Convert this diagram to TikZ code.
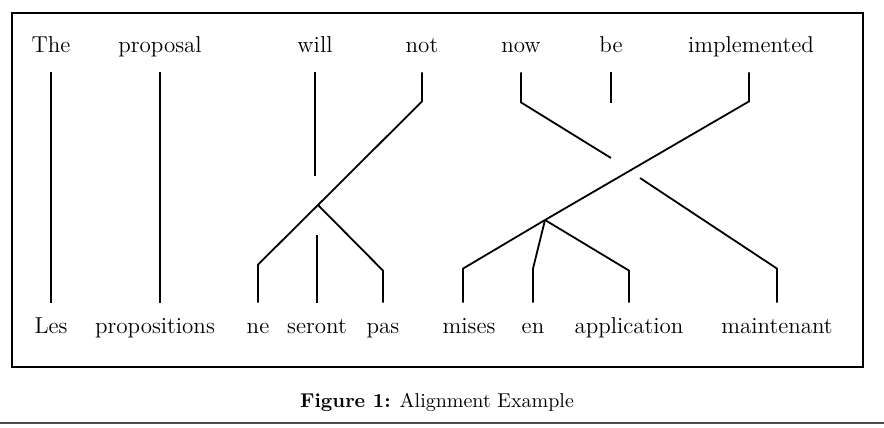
\documentclass[tikz,border=0pt]{standalone}
\begin{document}
\begin{tikzpicture}[x=0.5pt,y=-0.5pt,
  topword/.style={inner sep=0pt,anchor=base,text depth=9.5pt,font=\fontsize{11.5}{14}\selectfont},
  botword/.style={inner sep=0pt,anchor=base,text height=15pt,font=\fontsize{11.5}{14}\selectfont},
  link/.style={line width=0.9pt,line join=miter},
  frame/.style={line width=0.9pt},
  rule/.style={line width=0.6pt,draw=black!70}]
\useasboundingbox (0,0) rectangle (884,428);
\draw[frame] (12,13) rectangle (863,367);
% top words
\node[topword] (The) at (51,53) {The};
\node[topword] (proposal) at (160,53) {proposal};
\node[topword] (will) at (315,53) {will};
\node[topword] (not) at (422,53) {not};
\node[topword] (now) at (521,53) {now};
\node[topword] (be) at (611,53) {be};
\node[topword] (implemented) at (751,53) {implemented};
% bottom words
\node[botword] (Les) at (51,333) {Les};
\node[botword] (propositions) at (155,333) {propositions};
\node[botword] (ne) at (258,333) {ne};
\node[botword] (seront) at (317,333) {seront};
\node[botword] (pas) at (383,333) {pas};
\node[botword] (mises) at (469,333) {mises};
\node[botword] (en) at (533,333) {en};
\node[botword] (application) at (629,333) {application};
\node[botword] (maintenant) at (777,333) {maintenant};
% junctions and free ends
\coordinate (J1) at (318,205);
\coordinate (J2) at (545,220);
\path (will.south) ++(0,104) coordinate (willend);
\path (seront.north) ++(0,-68) coordinate (serontend);
\path (be.south) ++(0,31) coordinate (beend);
\coordinate (nowend) at (611,158);
\coordinate (maintstart) at (640,178);
% connectors
\draw[link] (The.south) -- (The.south |- Les.north);
\draw[link] (proposal.south) -- (proposal.south |- propositions.north);
\draw[link] (will.south) -- (willend);
\draw[link] (seront.north) -- (serontend);
\draw[link] (not.south) -- ++(0,29) -- (J1);
\draw[link] (J1) -- ([yshift=19pt]ne.north) -- (ne.north);
\draw[link] (J1) -- ([yshift=16pt]pas.north) -- (pas.north);
\draw[link] (now.south) -- ++(0,30) -- (nowend);
\draw[link] (be.south) -- (beend);
\draw[link] ([xshift=-1pt]implemented.south) -- ++(0,29) -- (J2);
\draw[link] (J2) -- ([xshift=-3pt,yshift=17pt]mises.north) -- ([xshift=-3pt]mises.north);
\draw[link] (J2) -- ([yshift=17pt]en.north) -- (en.north);
\draw[link] (J2) -- ([yshift=16pt]application.north) -- (application.north);
\draw[link] (maintstart) -- ([yshift=17pt]maintenant.north) -- (maintenant.north);
% caption and rule
\node[anchor=base,inner sep=0pt,font=\fontsize{10}{12}\selectfont] (caption) at (437,407) {\textbf{Figure 1:} Alignment Example};
\draw[rule] (0,423) -- (884,423);
\end{tikzpicture}
\end{document}
